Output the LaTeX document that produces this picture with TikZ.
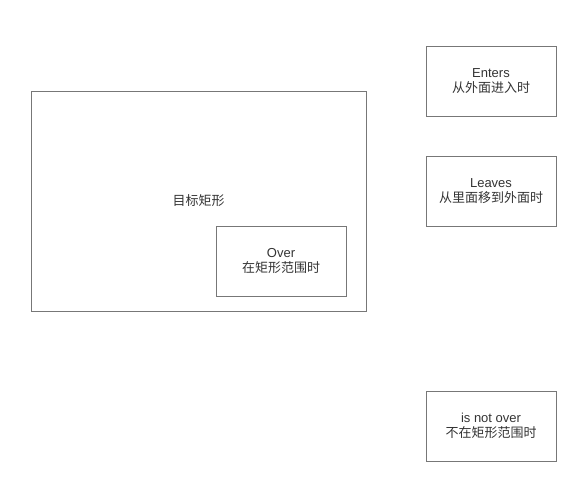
\documentclass[tikz,border=0pt]{standalone}
\usepackage{fontspec}
\setmainfont{Liberation Sans}
\newfontfamily\cjk{Noto Sans CJK SC}
\usepackage{tikz}
\usetikzlibrary{positioning}
\definecolor{boxline}{HTML}{777777}
\definecolor{boxtext}{HTML}{333333}
\tikzset{
  statebox/.style  = {draw=boxline, line width=0.75pt, rectangle, text=boxtext,
                      minimum width=97.5pt, minimum height=52.5pt, align=center,
                      inner sep=0pt, font=\fontsize{9.75pt}{11.5pt}\selectfont},
  targetbox/.style = {draw=boxline, line width=0.75pt, rectangle, text=boxtext,
                      minimum width=251.25pt, minimum height=165pt, align=center,
                      inner sep=0pt, font=\fontsize{9.75pt}{11.5pt}\selectfont},
}

\begin{document}
\begin{tikzpicture}[x=0.75pt,y=-0.75pt,node distance=29.25pt]
\useasboundingbox (0,0) rectangle (570,486);
% target rectangle with the "over" box in its corner
\node[targetbox] (target) at (198.5,201) {\cjk 目标矩形};
\node[statebox] (over) at (281,261) {Over\\{\cjk 在矩形范围时}};
% events, right column
\node[statebox] (enters) at (491,81) {Enters\\{\cjk 从外面进入时}};
\node[statebox,below=of enters] (leaves) {Leaves\\{\cjk 从里面移到外面时}};
\node[statebox,below=123pt of leaves] (notover) {is not over\\{\cjk 不在矩形范围时}};
\end{tikzpicture}
\end{document}
